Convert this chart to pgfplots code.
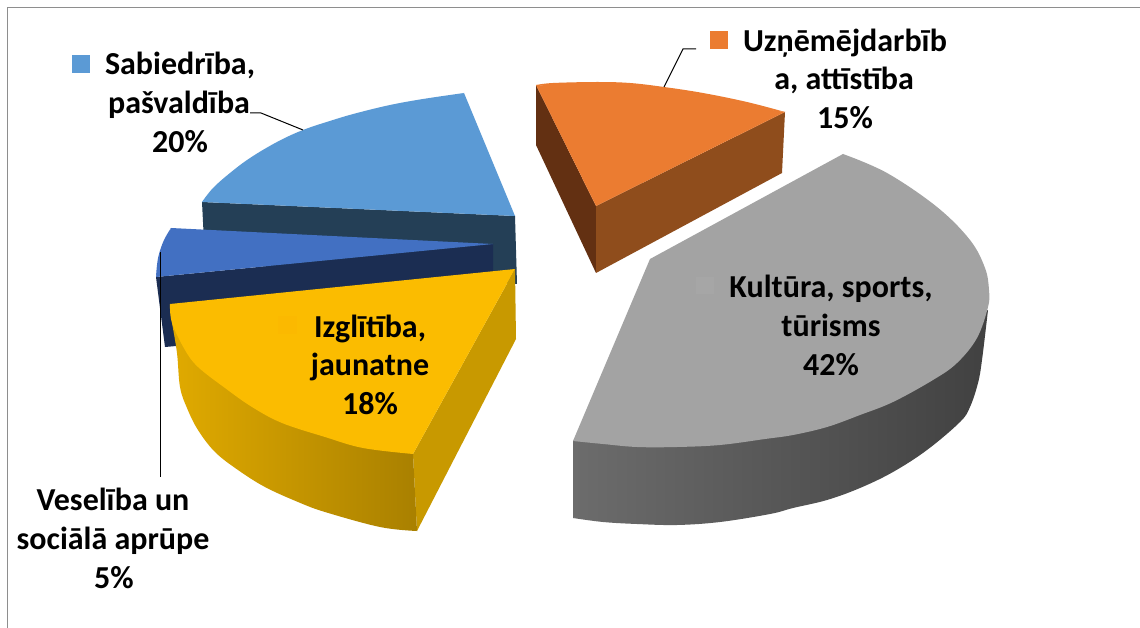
\documentclass[border=0pt]{standalone}
\usepackage{pgfplots}
\pgfplotsset{compat=1.18}
\usepackage{fontspec}
\setmainfont{Carlito}
\definecolor{cframe}{HTML}{8E8E8E}
\definecolor{cblue}{HTML}{5B9AD5}
\definecolor{cblueside}{HTML}{243F56}
\definecolor{cdk}{HTML}{4270C2}
\definecolor{cdkside}{HTML}{1B2D52}
\definecolor{cyel}{HTML}{FBBC00}
\definecolor{cyelside}{HTML}{C89900}
\definecolor{cyelL}{HTML}{E0AA00}
\definecolor{cyelM}{HTML}{C89800}
\definecolor{cyelR}{HTML}{A98000}
\definecolor{cor}{HTML}{EB7C31}
\definecolor{corR}{HTML}{8F4D1C}
\definecolor{corL}{HTML}{633012}
\definecolor{cgr}{HTML}{A3A3A3}
\definecolor{cgrL}{HTML}{6C6C6C}
\definecolor{cgrM}{HTML}{444444}
\definecolor{cgrR}{HTML}{414141}
\newcommand{\lab}[3]{\node[anchor=base,inner sep=0pt,font=\fontsize{32}{36}\selectfont\bfseries] at (axis cs:#1,#2) {#3};}
\begin{document}
\begin{tikzpicture}
\begin{axis}[scale only axis,width=1140pt,height=628pt,xmin=0,xmax=1140,ymin=0,ymax=628,y dir=reverse,hide axis]
% page
\addplot[fill=white,draw=none] coordinates {(0,0)(1140,0)(1140,628)(0,628)};
% frame
\addplot[cframe,line width=1pt] coordinates {(1140,8)(7,8)(7,628)};
% blue (Sabiedriba)
\addplot[fill=cblueside,draw=none] coordinates {(202,202)(515,216)(517,284)(490,284)(205,262)};
\addplot[fill=cblue,draw=none,smooth,tension=0.6] coordinates {(464,93)(423,99)(390,105)(357,113)(333,120)(303,130)(277,142)(250,158)(230,173)(213,188)(202,202)};
\addplot[fill=cblue,draw=none] coordinates {(464,93)(515,216)(202,202)(300,150)};
% dark blue (Veseliba)
\addplot[fill=cdkside,draw=none] coordinates {(156,277)(493,244)(493,275)(176,346)(165,347)};
\addplot[fill=cdk,draw=none,smooth,tension=0.6] coordinates {(171,228)(164,240)(159,254)(157,265)(156,277)};
\addplot[fill=cdk,draw=none] coordinates {(171,228)(493,244)(156,277)(161,255)};
% yellow
\addplot[fill=cyelside,draw=none] coordinates {(413,454)(515,269)(516,339)(417,531)};
\addplot[left color=cyelL,middle color=cyelM,right color=cyelR,draw=none,smooth,tension=0.6] coordinates {(172,323)(177,353)(180,387)(187,408)(198,430)(215,452)(238,470)(265,487)(298,502)(325,512)(380,527)(417,531)};
\addplot[left color=cyelL,middle color=cyelM,right color=cyelR,draw=none] coordinates {(172,323)(300,380)(413,454)(417,531)(300,470)};
\addplot[fill=cyel,draw=none,smooth,tension=0.6] coordinates {(170,304)(172,323)(185,350)(198,367)(225,388)(252,407)(282,423)(325,437)(363,448)(413,454)};
\addplot[fill=cyel,draw=none] coordinates {(515,269)(170,304)(260,395)(413,454)};
% orange
\addplot[fill=corL,draw=none] coordinates {(536,85)(596,206)(596,273)(536,145)};
\addplot[fill=corR,draw=none] coordinates {(596,206)(785,112)(782,173)(596,273)};
\addplot[fill=cor,draw=none,smooth,tension=0.6] coordinates {(536,85)(553,83)(597,82)(630,83)(664,87)(703,93)(747,102)(785,112)};
\addplot[fill=cor,draw=none] coordinates {(536,85)(596,206)(785,112)(650,92)};
% gray
\addplot[left color=cgrL,middle color=cgrM,right color=cgrR,draw=none,smooth,tension=0.6] coordinates {(573,518)(603,522)(637,524)(677,525)(720,522)(770,514)(793,508)(827,500)(860,488)(893,472)(927,450)(960,422)(970,407)(978,383)(982,360)(988,310)};
\addplot[left color=cgrL,middle color=cgrM,right color=cgrR,draw=none] coordinates {(573,441)(800,400)(988,310)(700,480)(573,518)};
\addplot[fill=cgr,draw=none,smooth,tension=0.6] coordinates {(843,154)(887,173)(937,207)(970,240)(985,268)(989,290)(988,307)(977,338)(957,363)(933,380)(893,402)(860,415)(827,427)(793,435)(765,439)(720,445)(677,447)(637,447)(603,444)(573,441)};
\addplot[fill=cgr,draw=none] coordinates {(843,154)(650,259)(573,441)(700,400)(800,300)};
% leader lines
\addplot[black,line width=1pt] coordinates {(250,113)(261,113)(303,130)};
\addplot[black,line width=1pt] coordinates {(696,49)(683,49)(664,87)};
\addplot[black,line width=1pt] coordinates {(160,252)(160,477)};
% legend keys
\addplot[fill=cblue,draw=none] coordinates {(72,55)(90,55)(90,73)(72,73)};
\addplot[fill=cor,draw=none] coordinates {(710,31)(728,31)(728,49)(710,49)};
\addplot[fill=cyel!95!orange,draw=none] coordinates {(278,316)(297,316)(297,334)(278,334)};
\addplot[fill=cgr!97!white,draw=none] coordinates {(696,277)(714,277)(714,294)(696,294)};
% labels
\lab{180}{75}{Sabiedrība,}
\lab{179}{114}{pašvaldība}
\lab{180}{153}{20\%}
\lab{845}{52}{Uzņēmējdarbīb}
\lab{844}{90}{a, attīstība}
\lab{845}{129}{15\%}
\lab{370}{337}{Izglītība,}
\lab{370}{375}{jaunatne}
\lab{370}{414}{18\%}
\lab{831}{298}{Kultūra, sports,}
\lab{831}{336}{tūrisms}
\lab{831}{375}{42\%}
\lab{113}{510}{Veselība un}
\lab{113}{549}{sociālā aprūpe}
\lab{114}{588}{5\%}
\end{axis}
\end{tikzpicture}
\end{document}
